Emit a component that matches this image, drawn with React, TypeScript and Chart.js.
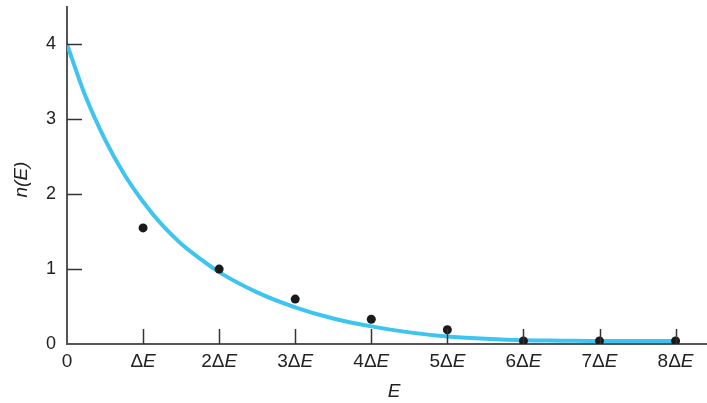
import React, { useEffect, useRef } from "react";
import { Chart, registerables } from "chart.js";

Chart.register(...registerables);

// Fitted curve n(E) (E in units of ΔE)
const curveE = [0, 0.25, 0.5, 0.75, 1, 1.25, 1.5, 1.75, 2, 2.5, 3, 3.5, 4, 4.5, 5, 5.5, 6, 6.5, 7, 7.5, 8];
const curveN = [4.0, 3.29, 2.73, 2.27, 1.9, 1.59, 1.34, 1.14, 0.96, 0.69, 0.49, 0.34, 0.235, 0.155, 0.1, 0.07, 0.05, 0.045, 0.04, 0.04, 0.04];

// Discrete points
const pointE = [1, 2, 3, 4, 5, 6, 7, 8];
const pointN = [1.55, 1.0, 0.6, 0.33, 0.19, 0.04, 0.04, 0.04];

// Ticks
const xTickValues = [0, 1, 2, 3, 4, 5, 6, 7, 8];
const xTickPrefixes = ["0", "Δ", "2Δ", "3Δ", "4Δ", "5Δ", "6Δ", "7Δ", "8Δ"];
const xTickSuffixes = ["", "E", "E", "E", "E", "E", "E", "E", "E"];
const yTickValues = [0, 1, 2, 3, 4];

const xTitle = "E";
const yTitle = "n(E)";

const FONT = '"Liberation Sans", Arial, sans-serif';
const TEXT = "#222222";
const AXIS = "#555555";

const customPlugin = {
  id: "customAxes",
  afterDatasetsDraw(chart: any) {
    const { ctx, scales, chartArea } = chart;
    const xs = scales.x;
    const ys = scales.y;
    ctx.save();
    ctx.strokeStyle = "#333333";
    ctx.lineWidth = 1.5;
    const tl = 15;
    xTickValues.forEach((v) => {
      if (v === 0) return;
      const px = Math.round(xs.getPixelForValue(v)) + 0.5;
      ctx.beginPath();
      ctx.moveTo(px, chartArea.bottom);
      ctx.lineTo(px, chartArea.bottom - tl);
      ctx.stroke();
    });
    yTickValues.forEach((v) => {
      if (v === 0) return;
      const py = Math.round(ys.getPixelForValue(v)) + 0.5;
      ctx.beginPath();
      ctx.moveTo(chartArea.left, py);
      ctx.lineTo(chartArea.left + tl, py);
      ctx.stroke();
    });
    ctx.restore();
  },
  afterDraw(chart: any) {
    const { ctx, scales, chartArea } = chart;
    const xs = scales.x;
    ctx.save();
    ctx.fillStyle = TEXT;
    ctx.textBaseline = "middle";
    const labelY = 362;
    xTickValues.forEach((v, i) => {
      const px = xs.getPixelForValue(v);
      const pre = xTickPrefixes[i];
      const suf = xTickSuffixes[i];
      ctx.font = `19px ${FONT}`;
      const w1 = ctx.measureText(pre).width;
      ctx.font = `italic 19px ${FONT}`;
      const w2 = ctx.measureText(suf).width;
      const start = px - (w1 + w2) / 2;
      ctx.textAlign = "left";
      ctx.font = `19px ${FONT}`;
      ctx.fillText(pre, start, labelY);
      ctx.font = `italic 19px ${FONT}`;
      ctx.fillText(suf, start + w1, labelY);
    });
    ctx.font = `italic 19px ${FONT}`;
    ctx.textAlign = "center";
    ctx.fillText(xTitle, xs.getPixelForValue(4.3), 392);
    ctx.translate(22, (chartArea.top + chartArea.bottom) / 2 + 4);
    ctx.rotate(-Math.PI / 2);
    ctx.fillText(yTitle, 0, 0);
    ctx.restore();
  },
};

export default function App() {
  const ref = useRef<HTMLCanvasElement | null>(null);
  useEffect(() => {
    if (!ref.current) return;
    const chart = new Chart(ref.current, {
      type: "line",
      data: {
        datasets: [
          {
            label: "curve",
            data: curveE.map((e, i) => ({ x: e, y: curveN[i] })),
            borderColor: "#3ec4f0",
            borderWidth: 4,
            pointRadius: 0,
            cubicInterpolationMode: "monotone",
            fill: false,
            order: 2,
          },
          {
            label: "points",
            data: pointE.map((e, i) => ({ x: e, y: pointN[i] })),
            showLine: false,
            pointRadius: 4.5,
            pointBackgroundColor: "#1a1a1a",
            pointBorderColor: "#1a1a1a",
            pointBorderWidth: 0,
            order: 1,
          },
        ],
      },
      options: {
        animation: false,
        responsive: false,
        layout: { autoPadding: false, padding: { top: 7, right: 1, left: 0, bottom: 0 } },
        plugins: { legend: { display: false }, tooltip: { enabled: false } },
        scales: {
          x: {
            type: "linear",
            min: 0,
            max: 8.4,
            grid: { display: false, drawTicks: false },
            border: { display: true, color: AXIS, width: 2 },
            ticks: { display: false },
            afterBuildTicks: (s: any) => {
              s.ticks = xTickValues.map((v) => ({ value: v }));
            },
            afterFit: (s: any) => {
              s.height = 59;
              s.paddingLeft = 0;
              s.paddingRight = 0;
            },
          },
          y: {
            type: "linear",
            min: 0,
            max: 4.5,
            grid: { display: false, drawTicks: false },
            border: { display: true, color: AXIS, width: 2 },
            ticks: {
              padding: 11,
              color: TEXT,
              font: { family: FONT, size: 18 },
            },
            afterBuildTicks: (s: any) => {
              s.ticks = yTickValues.map((v) => ({ value: v }));
            },
            afterFit: (s: any) => {
              s.width = 67;
              s.paddingTop = 0;
              s.paddingBottom = 0;
            },
          },
        },
      },
      plugins: [customPlugin],
    });
    return () => chart.destroy();
  }, []);
  return (
    <div style={{ position: "fixed", left: 0, top: 0, width: 707, height: 403, background: "#fff" }}>
      <canvas ref={ref} width={707} height={403} />
    </div>
  );
}
